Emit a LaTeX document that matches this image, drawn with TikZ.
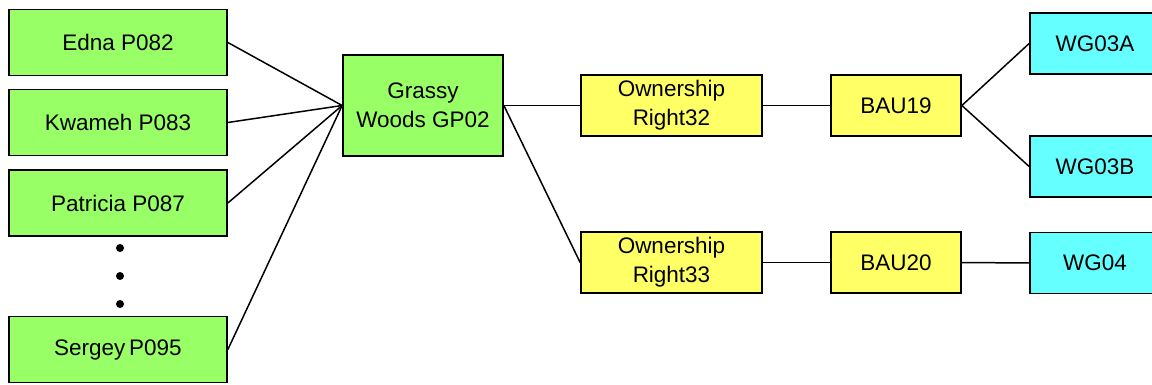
\documentclass[tikz,border=0pt]{standalone}
\usepackage{fontspec}
\setmainfont{Liberation Sans}
\usepackage{xcolor}
\definecolor{boxgreen}{RGB}{153,255,102}
\definecolor{boxyellow}{RGB}{255,255,102}
\definecolor{boxcyan}{RGB}{102,255,255}
\usetikzlibrary{positioning}
\tikzset{
  tree box/.style={draw, line width=1pt, align=center, inner sep=2pt, font=\fontsize{12.8}{16.5}\selectfont},
  owner box/.style={tree box, fill=boxgreen, minimum width=4.36cm, minimum height=1.32cm},
  parcel box/.style={tree box, fill=boxgreen, minimum width=3.2cm, minimum height=2.02cm},
  right box/.style={tree box, fill=boxyellow, minimum width=3.62cm, minimum height=1.22cm},
  unit box/.style={tree box, fill=boxyellow, minimum width=2.6cm, minimum height=1.22cm},
  group box/.style={tree box, fill=boxcyan, minimum width=2.6cm, minimum height=1.22cm},
  tree edge/.style={line width=0.85pt},
}

\begin{document}
\begin{tikzpicture}[x=0.02cm, y=-0.02cm]
  \useasboundingbox (0,0) rectangle (1152,385);
  % owners
  \node[owner box] (edna) at (118,42.5) {Edna P082};
  \node[owner box] (kwameh) at (118,122.5) {Kwameh P083};
  \node[owner box] (patricia) at (118,203) {Patricia P087};
  \node[owner box] (sergey) at (118,349.5) {Sergey\,P095};
  \foreach \y in {248,276,304}
    \fill (120,\y) circle (4);
  % parcel and rights
  \node[parcel box] (grassy) at (423,105.5) {Grassy\\Woods GP02};
  \node[right box] (own32) at (671.5,105.5) {Ownership\\Right32};
  \node[right box] (own33) at (671.5,262.5) {Ownership\\Right33};
  \node[unit box] (bau19) at (896,105.5) {BAU19};
  \node[unit box] (bau20) at (896,262.5) {BAU20};
  \node[group box] (wg03a) at (1095,43.5) {WG03A};
  \node[group box] (wg03b) at (1095,166.5) {WG03B};
  \node[group box] (wg04) at (1095,263) {WG04};
  % connectors
  \foreach \n in {edna,kwameh,patricia,sergey}
    \draw[tree edge] (\n.east) -- (grassy.west);
  \draw[tree edge] (grassy.east) -- (own32.west);
  \draw[tree edge] (grassy.east) -- (own33.west);
  \draw[tree edge] (own32) -- (bau19);
  \draw[tree edge] (own33) -- (bau20);
  \draw[tree edge] (bau19.east) -- (wg03a.west);
  \draw[tree edge] (bau19.east) -- (wg03b.west);
  \draw[tree edge] (bau20.east) -- (wg04.west);
\end{tikzpicture}
\end{document}
